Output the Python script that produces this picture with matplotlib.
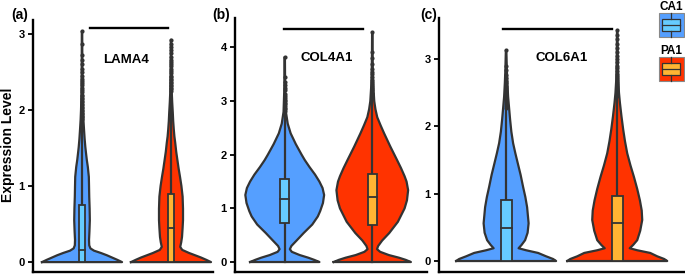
import matplotlib
matplotlib.use("Agg")
import matplotlib.pyplot as plt
from matplotlib.patches import Rectangle
import numpy as np

plt.rcParams['font.family'] = ['Liberation Sans', 'DejaVu Sans']

# ---------------- data ----------------
genes = ["LAMA4", "COL4A1", "COL6A1"]
groups = ["CA1", "PA1"]

# violin profiles: expression value grid and relative density (0..1)
a_ca1_y = [0, 0.03, 0.06, 0.09, 0.12, 0.15, 0.18, 0.22, 0.29, 0.4, 0.55, 0.7, 0.86, 1.0, 1.12, 1.25, 1.34, 1.43, 1.51, 1.62, 1.74, 1.87, 2.0, 2.2, 2.4, 2.7, 3.03]
a_ca1_d = [1.0, 0.88, 0.75, 0.62, 0.47, 0.30, 0.21, 0.18, 0.175, 0.185, 0.195, 0.19, 0.18, 0.175, 0.17, 0.145, 0.12, 0.10, 0.083, 0.065, 0.05, 0.035, 0.025, 0.015, 0.01, 0.007, 0.005]

a_pa1_y = [0, 0.03, 0.06, 0.09, 0.12, 0.16, 0.2, 0.26, 0.33, 0.45, 0.55, 0.7, 0.86, 1.0, 1.12, 1.23, 1.34, 1.45, 1.57, 1.65, 1.74, 1.85, 1.96, 2.1, 2.22, 2.5, 2.92]
a_pa1_d = [1.0, 0.88, 0.75, 0.60, 0.45, 0.28, 0.23, 0.255, 0.275, 0.29, 0.30, 0.30, 0.29, 0.26, 0.225, 0.19, 0.16, 0.13, 0.105, 0.085, 0.07, 0.055, 0.045, 0.03, 0.02, 0.01, 0.005]

b_ca1_y = [0, 0.04, 0.08, 0.13, 0.19, 0.24, 0.3, 0.4, 0.54, 0.7, 0.85, 0.95, 1.1, 1.25, 1.38, 1.5, 1.63, 1.77, 1.9, 2.0, 2.2, 2.4, 2.58, 2.8, 3.2, 3.5, 3.82]
b_ca1_d = [0.88, 0.75, 0.60, 0.38, 0.18, 0.13, 0.17, 0.30, 0.48, 0.70, 0.84, 0.90, 0.97, 1.0, 0.96, 0.88, 0.77, 0.63, 0.51, 0.43, 0.28, 0.15, 0.076, 0.03, 0.012, 0.008, 0.005]

b_pa1_y = [0, 0.04, 0.08, 0.13, 0.19, 0.24, 0.3, 0.4, 0.54, 0.75, 1.0, 1.15, 1.34, 1.5, 1.6, 1.75, 1.9, 2.15, 2.4, 2.55, 2.7, 2.85, 3.0, 3.3, 3.5, 3.9, 4.28]
b_pa1_d = [0.98, 0.85, 0.68, 0.42, 0.20, 0.12, 0.15, 0.25, 0.43, 0.65, 0.82, 0.88, 0.91, 0.87, 0.82, 0.73, 0.63, 0.46, 0.30, 0.21, 0.126, 0.08, 0.05, 0.025, 0.015, 0.008, 0.005]

c_ca1_y = [0, 0.03, 0.07, 0.12, 0.16, 0.19, 0.24, 0.31, 0.42, 0.56, 0.8, 0.95, 1.1, 1.28, 1.45, 1.6, 1.75, 1.92, 2.1, 2.27, 2.44, 2.65, 2.84, 3.13]
c_ca1_d = [1.0, 0.94, 0.80, 0.64, 0.40, 0.25, 0.31, 0.38, 0.43, 0.45, 0.42, 0.385, 0.34, 0.29, 0.234, 0.185, 0.14, 0.105, 0.08, 0.06, 0.04, 0.025, 0.015, 0.005]

c_pa1_y = [0, 0.03, 0.07, 0.12, 0.16, 0.19, 0.24, 0.31, 0.45, 0.61, 0.75, 0.9, 1.07, 1.25, 1.42, 1.6, 1.78, 1.95, 2.15, 2.35, 2.5, 2.69, 3.0, 3.43]
c_pa1_d = [1.0, 0.94, 0.80, 0.66, 0.40, 0.25, 0.32, 0.40, 0.46, 0.50, 0.49, 0.454, 0.40, 0.334, 0.265, 0.20, 0.155, 0.12, 0.085, 0.054, 0.035, 0.02, 0.01, 0.005]

# box statistics: q1, median, q3, lower whisker, upper whisker
a_ca1_box = [0.0, 0.16, 0.75, 0.0, 1.87]
a_pa1_box = [0.0, 0.45, 0.90, 0.0, 2.24]
b_ca1_box = [0.72, 1.17, 1.55, 0.0, 2.80]
b_pa1_box = [0.69, 1.21, 1.64, 0.0, 3.07]
c_ca1_box = [0.0, 0.49, 0.90, 0.0, 2.25]
c_pa1_box = [0.0, 0.57, 0.97, 0.0, 2.43]

# outliers
a_ca1_out = [1.88, 1.9, 1.92, 1.94, 1.96, 1.98, 2.0, 2.02, 2.04, 2.06, 2.08, 2.1, 2.12, 2.14, 2.16, 2.18, 2.2, 2.23, 2.26, 2.29, 2.32, 2.35, 2.38, 2.41, 2.45, 2.5, 2.53, 2.6, 2.65, 2.72, 2.87, 3.03]
a_pa1_out = [2.25, 2.27, 2.29, 2.31, 2.33, 2.35, 2.37, 2.39, 2.41, 2.43, 2.45, 2.48, 2.51, 2.54, 2.57, 2.6, 2.63, 2.66, 2.7, 2.74, 2.78, 2.82, 2.86, 2.92]
b_ca1_out = [2.82, 2.85, 2.88, 2.91, 2.94, 2.97, 3.0, 3.03, 3.06, 3.1, 3.14, 3.2, 3.25, 3.3, 3.36, 3.45, 3.82]
b_pa1_out = [3.1, 3.13, 3.16, 3.2, 3.24, 3.28, 3.32, 3.36, 3.4, 3.45, 3.5, 3.55, 3.6, 3.7, 3.8, 3.92, 4.28]
c_ca1_out = [2.27, 2.3, 2.33, 2.36, 2.39, 2.42, 2.45, 2.48, 2.51, 2.54, 2.57, 2.6, 2.64, 2.68, 2.72, 2.77, 2.84, 2.9, 3.13]
c_pa1_out = [2.45, 2.48, 2.51, 2.54, 2.57, 2.6, 2.63, 2.66, 2.69, 2.72, 2.75, 2.78, 2.82, 2.86, 2.9, 2.95, 3.0, 3.05, 3.1, 3.16, 3.22, 3.3, 3.36, 3.43]

yticks_a = [0, 1, 2, 3]
yticks_b = [0, 1, 2, 3, 4]
yticks_c = [0, 1, 2, 3]

# ---------------- style ----------------
W, H = 685, 275
fig = plt.figure(figsize=(W / 100, H / 100), dpi=100)

VIO = ["#559FFF", "#FF3300"]
BOX = ["#66CCFF", "#FFB533"]
EDGE = "#333333"
HALF = 0.45
LW = 1.6


def px_axes(x0, x1, ytop, ybot):
    return fig.add_axes([x0 / W, 1 - ybot / H, (x1 - x0) / W, (ybot - ytop) / H])


def draw_panel(ax, profiles, boxes, outs, xlim, ylim, yticks, boxw, gene, gene_xy, bar):
    for i, ((yy, dd), bx, ot) in enumerate(zip(profiles, boxes, outs)):
        x = i + 1
        yy = np.asarray(yy)
        hw = np.asarray(dd) * HALF
        ax.fill_betweenx(yy, x - hw, x + hw, facecolor=VIO[i], edgecolor="none", zorder=1)
        xs = np.concatenate([x - hw, (x + hw)[::-1], [x - hw[0]]])
        ys = np.concatenate([yy, yy[::-1], [yy[0]]])
        ax.plot(xs, ys, color=EDGE, lw=LW, zorder=2, solid_joinstyle="round")
        q1, med, q3, wlo, whi = bx
        ax.plot([x, x], [q3, whi], color=EDGE, lw=LW, zorder=2)
        ax.plot([x, x], [wlo, q1], color=EDGE, lw=LW, zorder=2)
        ax.plot([x] * len(ot), ot, "o", ms=3.0, color=EDGE, mec="none", zorder=2)
        ax.add_patch(Rectangle((x - boxw / 2, q1), boxw, q3 - q1, facecolor=BOX[i],
                               edgecolor=EDGE, lw=1.3, zorder=3))
        ax.plot([x - boxw / 2, x + boxw / 2], [med, med], color=EDGE, lw=1.3, zorder=4)
    ax.set_xlim(*xlim)
    ax.set_ylim(*ylim)
    ax.set_xticks([])
    ax.set_yticks(yticks)
    ax.set_yticklabels([str(t) for t in yticks], fontweight="bold", fontsize=8)
    ax.tick_params(axis="y", length=3.5, width=1.3, pad=2.5, colors="black")
    for s in ["top", "right"]:
        ax.spines[s].set_visible(False)
    for s in ["left", "bottom"]:
        ax.spines[s].set_linewidth(1.7)
        ax.spines[s].set_color("black")
    ax.patch.set_alpha(0)
    ax.plot(bar[0], bar[1], color="black", lw=1.7, clip_on=False)
    ax.text(gene_xy[0], gene_xy[1], gene, ha="center", va="center", fontsize=9.5, fontweight="bold")


ax_a = px_axes(33, 213, 20, 272)
draw_panel(ax_a, [(a_ca1_y, a_ca1_d), (a_pa1_y, a_pa1_d)], [a_ca1_box, a_pa1_box],
           [a_ca1_out, a_pa1_out], (0.449, 2.472), (-0.13, 3.18), yticks_a, 0.06,
           genes[0], (1.5, 2.66), ([1.09, 1.97], [3.07, 3.07]))

ax_b = px_axes(235, 427, 18, 272)
draw_panel(ax_b, [(b_ca1_y, b_ca1_d), (b_pa1_y, b_pa1_d)], [b_ca1_box, b_pa1_box],
           [b_ca1_out, b_pa1_out], (0.432, 2.625), (-0.186, 4.55), yticks_b, 0.105,
           genes[1], (1.48, 3.8), ([0.99, 1.89], [4.34, 4.34]))

ax_c = px_axes(439, 685, 18, 272)
draw_panel(ax_c, [(c_ca1_y, c_ca1_d), (c_pa1_y, c_pa1_d)], [c_ca1_box, c_pa1_box],
           [c_ca1_out, c_pa1_out], (0.396, 2.61), (-0.163, 3.61), yticks_c, 0.1,
           genes[2], (1.5, 3.02), ([0.97, 1.955], [3.45, 3.45]))

# panel labels and y label (figure pixel coordinates)
for lab, px in [("(a)", 20), ("(b)", 221), ("(c)", 429)]:
    fig.text(px / W, 1 - 15 / H, lab, ha="center", va="center", fontsize=10, fontweight="bold")
fig.text(8 / W, 1 - 145 / H, "Expression Level", rotation=90, ha="center", va="center",
         fontsize=10, fontweight="bold")

# legend
lg = fig.add_axes([0, 0, 1, 1])
lg.set_xlim(0, W)
lg.set_ylim(H, 0)
lg.axis("off")
lg.patch.set_alpha(0)
for i, (name, top) in enumerate(zip(groups, [13, 57])):
    lg.add_patch(Rectangle((659, top), 25, 24, facecolor=VIO[i], edgecolor="#888888", lw=0.8))
    lg.add_patch(Rectangle((662.5, top + 6), 18, 12, facecolor=BOX[i], edgecolor=EDGE, lw=0.9))
    lg.plot([662.5, 680.5], [top + 12, top + 12], color=EDGE, lw=0.9)
    lg.plot([671.5, 671.5], [top, top + 6], color=EDGE, lw=0.9)
    lg.plot([671.5, 671.5], [top + 18, top + 24], color=EDGE, lw=0.9)
    lg.text(671.5, top - 6, name, ha="center", va="center", fontsize=8.5, fontweight="bold")

fig.savefig("out.png", dpi=100)
